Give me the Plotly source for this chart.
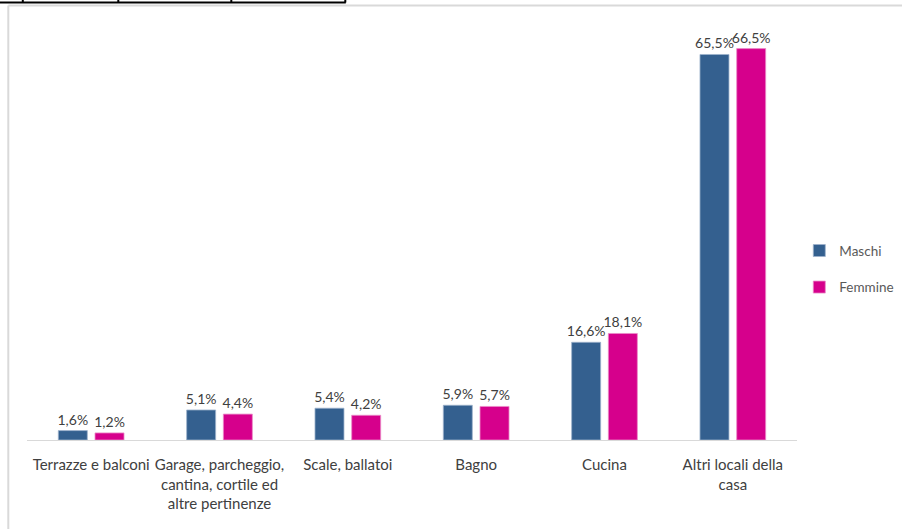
import plotly.graph_objects as go

categories = [
    "Terrazze e balconi",
    "Garage, parcheggio,<br>cantina, cortile ed<br>altre pertinenze",
    "Scale, ballatoi",
    "Bagno",
    "Cucina",
    "Altri locali della<br>casa",
]
maschi = [1.6, 5.1, 5.4, 5.9, 16.6, 65.5]
femmine = [1.2, 4.4, 4.2, 5.7, 18.1, 66.5]

W, H = 902, 529
L, R, T, B = 26.7, 796.7, 27.5, 440  # plot area in pixels


def px(x):
    return (x - L) / (R - L)


def py(y):
    return (B - y) / (B - T)


FONT = "Lato, Roboto, Arial, sans-serif"
TXT = "#404040"

fig = go.Figure()
fig.add_trace(go.Bar(
    name="Maschi", x=categories, y=maschi,
    marker=dict(color="#34608F", line=dict(color="#9db3cc", width=0.8)),
    texttemplate="%{y:.1f}%", textposition="outside", constraintext="none",
    textfont=dict(family=FONT, size=14, color=TXT),
    cliponaxis=False, legendgroup="m",
))
fig.add_trace(go.Bar(
    name="Femmine", x=categories, y=femmine,
    marker=dict(color="#D6008C", line=dict(color="#eb8cc8", width=0.8)),
    texttemplate="%{y:.1f}%", textposition="outside", constraintext="none",
    textfont=dict(family=FONT, size=14, color=TXT),
    cliponaxis=False, legendgroup="f",
))

shapes = []
# light gray chart frame (top and left)
shapes.append(dict(type="line", xref="paper", yref="paper",
                   x0=px(8), x1=px(905), y0=py(5), y1=py(5),
                   line=dict(color="#d9d9d9", width=2)))
shapes.append(dict(type="line", xref="paper", yref="paper",
                   x0=px(8), x1=px(8), y0=py(5), y1=py(535),
                   line=dict(color="#d9d9d9", width=2)))
# black table border fragment at very top
shapes.append(dict(type="line", xref="paper", yref="paper",
                   x0=px(-2), x1=px(345.5), y0=py(2), y1=py(2),
                   line=dict(color="#000000", width=2)))
for xv in [22.5, 118, 231, 345]:
    shapes.append(dict(type="line", xref="paper", yref="paper",
                       x0=px(xv), x1=px(xv), y0=py(-2), y1=py(2),
                       line=dict(color="#000000", width=2)))

fig.update_layout(
    width=W, height=H,
    margin=dict(l=L, r=W - R, t=T, b=H - B, pad=0, autoexpand=False),
    paper_bgcolor="white", plot_bgcolor="white",
    separators=",.",
    barmode="group", bargap=0.428, bargroupgap=0.21,
    font=dict(family=FONT, size=14, color=TXT),
    xaxis=dict(showgrid=False, showline=True, linecolor="#d9d9d9", linewidth=1.3,
               ticks="", tickfont=dict(family=FONT, size=15, color=TXT),
               ticklabelstandoff=11, automargin=False),
    yaxis=dict(range=[0, 70], visible=False, showgrid=False, zeroline=False),
    legend=dict(x=px(799), y=py(235), xanchor="left", yanchor="top",
                font=dict(family=FONT, size=13.5, color="#595959"),
                tracegroupgap=16, itemwidth=30, bgcolor="rgba(0,0,0,0)"),
    showlegend=True,
    shapes=shapes,
)

fig.write_html(
    "out.html",
    config={"displayModeBar": False},
    post_script="document.body.style.margin='0';document.body.style.overflow='hidden';",
)
